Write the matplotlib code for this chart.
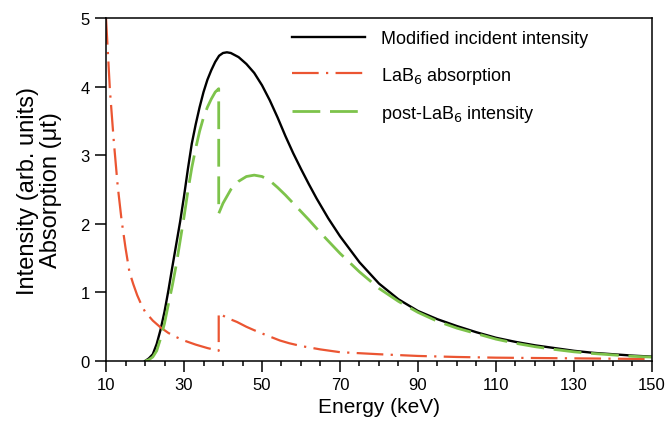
import matplotlib.pyplot as plt
from matplotlib.ticker import MultipleLocator

plt.rcParams['font.family'] = ['Liberation Sans', 'DejaVu Sans']

# Modified incident intensity (black, solid)
inc_energy = [20, 21, 22, 23, 24, 25, 26, 27, 28, 29, 30, 31, 32, 33, 34, 35, 36, 37, 38, 39,
              40, 41, 42, 44, 46, 48, 50, 52, 54, 56, 58, 60, 62, 64, 67, 70, 75, 80, 85, 90,
              95, 100, 105, 110, 115, 120, 125, 130, 135, 140, 145, 150]
inc_value = [0.0, 0.04, 0.1, 0.25, 0.46, 0.72, 1.03, 1.37, 1.7, 2.03, 2.4, 2.8, 3.17, 3.45,
             3.7, 3.92, 4.1, 4.24, 4.36, 4.45, 4.49, 4.5, 4.49, 4.43, 4.33, 4.2, 4.02, 3.8,
             3.55, 3.28, 3.03, 2.8, 2.58, 2.37, 2.08, 1.82, 1.44, 1.13, 0.9, 0.73, 0.61, 0.51,
             0.42, 0.34, 0.28, 0.23, 0.19, 0.15, 0.12, 0.1, 0.08, 0.065]

# LaB6 absorption (red, dash-dot), K-edge near 38.9 keV
abs_energy = [10, 11, 12, 13, 14, 15, 16, 17, 18, 19, 20, 22, 24, 26, 28, 30, 33, 36, 38.9,
              38.9, 41, 43.6, 46, 48, 51, 54.6, 57, 60, 65, 70, 75, 80, 90, 100, 110, 120,
              130, 140, 150]
abs_value = [5.0, 3.95, 3.2, 2.55, 2.05, 1.65, 1.3, 1.12, 0.96, 0.83, 0.72, 0.59, 0.49, 0.41,
             0.35, 0.3, 0.24, 0.19, 0.15, 0.7, 0.63, 0.57, 0.5, 0.45, 0.38, 0.3, 0.26, 0.22,
             0.17, 0.13, 0.115, 0.1, 0.075, 0.06, 0.05, 0.045, 0.04, 0.035, 0.03]

# post-LaB6 intensity (green, dashed)
post_energy = [20, 21, 22, 23, 24, 25, 26, 27, 28, 29, 30, 31, 32, 33, 34, 35, 36, 37, 38, 38.9,
               38.9, 40, 42, 44, 46, 48, 50, 52, 54, 56, 58, 60, 62, 65, 70, 75, 80, 85, 90,
               95, 100, 105, 110, 115, 120, 125, 130, 135, 140, 145, 150]
post_value = [0.0, 0.02, 0.06, 0.15, 0.33, 0.55, 0.83, 1.1, 1.4, 1.75, 2.1, 2.48, 2.82, 3.1,
              3.35, 3.55, 3.7, 3.82, 3.92, 3.97, 2.15, 2.3, 2.5, 2.62, 2.69, 2.71, 2.69, 2.63,
              2.53, 2.42, 2.3, 2.18, 2.06, 1.87, 1.57, 1.3, 1.06, 0.87, 0.71, 0.58, 0.48, 0.4,
              0.32, 0.26, 0.21, 0.17, 0.135, 0.11, 0.09, 0.07, 0.058]

fig = plt.figure(figsize=(6.68, 4.27), dpi=100)
ax = fig.add_axes([0.1587, 0.152, 0.8173, 0.8035])

ax.plot(inc_energy, inc_value, color='black', lw=1.7, label='Modified incident intensity')
ax.plot(abs_energy, abs_value, color='#EB5532', lw=1.6, dashes=(12, 3.3, 1, 3.3),
        label='LaB$_6$ absorption')
ax.plot(post_energy, post_value, color='#7DC34B', lw=2, dashes=(10, 3.5),
        label='post-LaB$_6$ intensity')

ax.set_xlim(10, 150)
ax.set_ylim(0, 5)
ax.set_xticks(range(10, 151, 20))
ax.xaxis.set_minor_locator(MultipleLocator(5))
ax.set_yticks(range(0, 6))
ax.tick_params(axis='both', which='major', direction='out', length=8.2, width=1.1,
               labelsize=12, colors='black')
ax.tick_params(axis='x', which='minor', direction='out', length=3.6, width=1.1)
for s in ax.spines.values():
    s.set_linewidth(1.1)

ax.set_xlabel('Energy (keV)', fontsize=15, labelpad=3)
ax.set_ylabel('Intensity (arb. units)\nAbsorption (\u03bct)', fontsize=17, linespacing=1.08)
ax.yaxis.set_label_coords(-0.08, 0.5)

ax.legend(loc='upper left', bbox_to_anchor=(0.328, 0.985), frameon=False, fontsize=13,
          handlelength=4.0, handletextpad=0.9, labelspacing=0.95, borderaxespad=0)

fig.savefig('out.png', dpi=100)
